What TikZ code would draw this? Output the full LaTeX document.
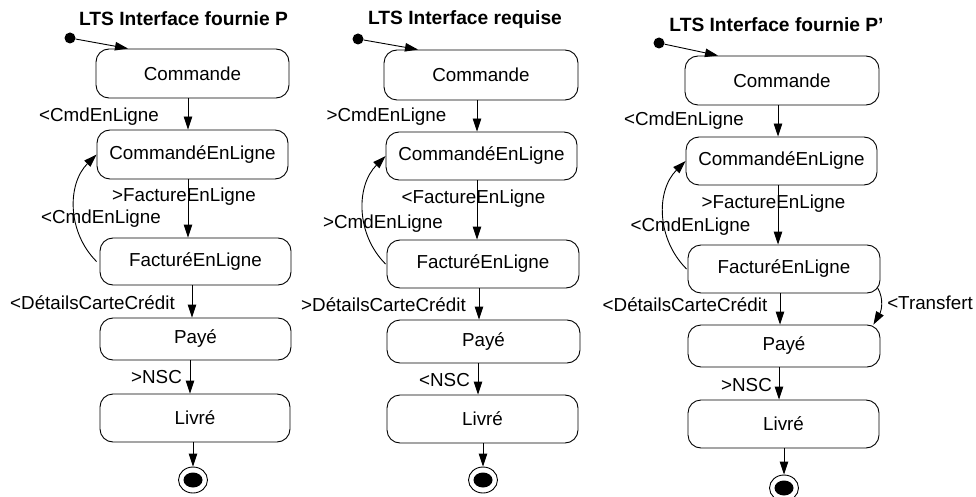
\documentclass[tikz,border=0pt]{standalone}
\usepackage{fontspec}
\setmainfont{Liberation Sans}
\usetikzlibrary{arrows.meta,shapes.geometric}
\begin{document}
\begin{tikzpicture}[x=1pt,y=1pt,
  every node/.style={font=\fontsize{18.8}{22}\selectfont, inner sep=0pt},
  state/.style={draw, line width=0.9pt, rounded corners=13pt, minimum width=192pt},
  ttl/.style={font=\fontsize{19.2}{23}\selectfont\bfseries},
  lbl/.style={},
  initdot/.style={circle, fill=black, minimum size=11pt},
  finst/.style={ellipse, draw, line width=0.9pt, minimum width=29pt, minimum height=26pt},
  tr/.style={line width=0.9pt, -{Triangle[length=13pt,width=8.5pt]}}]
\useasboundingbox (0,0) rectangle (976,496);

% ---------- Panel 1 ----------
\node[ttl] (t1) at (183.5,477) {LTS Interface fournie P};
\node[initdot] (d1) at (70,458) {};
\node[state, minimum height=49pt, minimum width=193pt] (c1) at (192.5,422.5) {Commande};
\node[state, minimum height=49pt, minimum width=191pt] (cel1) at (192.5,341.5) {CommandéEnLigne};
\node[state, minimum height=47pt, minimum width=191pt] (fel1) at (195.5,234.5) {FacturéEnLigne};
\node[state, minimum height=42pt, minimum width=191pt] (p1) at (195.5,157) {Payé};
\node[state, minimum height=48pt, minimum width=190pt] (l1) at (195,78) {Livré};
\node[finst] (f1) at (193,16) {};
\fill (f1.center) ellipse [x radius=9.5pt, y radius=7.5pt];
\node[lbl] (a1) at (99,379) {<CmdEnLigne};
\node[lbl] (b1) at (184,299) {>FactureEnLigne};
\node[lbl] (r1) at (101,277) {<CmdEnLigne};
\node[lbl] (e1) at (92.5,193) {<DétailsCarteCrédit};
\node[lbl] (n1) at (156.5,119) {>NSC};
\draw[tr] (d1) -- ([xshift=-64.5pt]c1.north);
\draw[tr] ([xshift=-4.5pt]c1.south) -- ([xshift=-4.5pt]cel1.north);
\draw[tr] ([xshift=-4.5pt]cel1.south) -- ([xshift=-7.5pt]fel1.north);
\draw[tr] ([xshift=-3.5pt]fel1.south) -- ([xshift=-3.5pt]p1.north);
\draw[tr] ([xshift=-5.5pt]p1.south) -- ([xshift=-5pt]l1.north);
\draw[tr] ([xshift=-2pt]l1.south) -- (f1.north);
\draw[tr] ([xshift=-3pt]fel1.west) to[out=135,in=225] (cel1.west);

% ---------- Panel 2 ----------
\node[ttl] (t2) at (465,476) {LTS Interface requise};
\node[initdot] (d2) at (358,457) {};
\node[state, minimum height=50pt, minimum width=194pt] (c2) at (481,421) {Commande};
\node[state, minimum height=48pt, minimum width=191pt] (cel2) at (481.5,340) {CommandéEnLigne};
\node[state, minimum height=48pt, minimum width=192pt] (fel2) at (483,232) {FacturéEnLigne};
\node[state, minimum height=43pt, minimum width=193pt] (p2) at (483.5,154.5) {Payé};
\node[state, minimum height=48pt, minimum width=191pt] (l2) at (482.5,77) {Livré};
\node[finst] (f2) at (483,16) {};
\fill (f2.center) ellipse [x radius=9.5pt, y radius=7.5pt];
\node[lbl] (a2) at (386.5,379) {>CmdEnLigne};
\node[lbl] (b2) at (473.5,297) {<FactureEnLigne};
\node[lbl] (r2) at (383,272) {>CmdEnLigne};
\node[lbl] (e2) at (383.5,191) {>DétailsCarteCrédit};
\node[lbl] (n2) at (444.5,116) {<NSC};
\draw[tr] (d2) -- ([xshift=-63pt]c2.north);
\draw[tr] ([xshift=-4pt]c2.south) -- ([xshift=-4.5pt]cel2.north);
\draw[tr] ([xshift=-4.5pt]cel2.south) -- ([xshift=-6pt]fel2.north);
\draw[tr] ([xshift=-4pt]fel2.south) -- ([xshift=-4.5pt]p2.north);
\draw[tr] ([xshift=-5.5pt]p2.south) -- ([xshift=-4.5pt]l2.north);
\draw[tr] ([xshift=0.5pt]l2.south) -- (f2.north);
\draw[tr] ([xshift=-1pt]fel2.west) to[out=135,in=225] (cel2.west);

% ---------- Panel 3 ----------
\node[ttl] (t3) at (776.5,471) {LTS Interface fournie P’};
\node[initdot] (d3) at (659,453) {};
\node[state, minimum height=49pt, minimum width=194pt] (c3) at (782,415.5) {Commande};
\node[state, minimum height=48pt, minimum width=191pt] (cel3) at (781.5,335) {CommandéEnLigne};
\node[state, minimum height=48pt, minimum width=192pt] (fel3) at (784,227) {FacturéEnLigne};
\node[state, minimum height=42pt, minimum width=192pt] (p3) at (784,150) {Payé};
\node[state, minimum height=48pt, minimum width=191pt] (l3) at (783.5,72) {Livré};
\node[finst] (f3) at (784,8) {};
\fill (f3.center) ellipse [x radius=9.5pt, y radius=7.5pt];
\node[lbl] (a3) at (684,375) {<CmdEnLigne};
\node[lbl] (b3) at (773.5,292) {>FactureEnLigne};
\node[lbl] (r3) at (690.5,269) {<CmdEnLigne};
\node[lbl] (e3) at (685,191) {<DétailsCarteCrédit};
\node[lbl] (n3) at (746.5,111) {>NSC};
\node[lbl] (x3) at (930,193) {<Transfert};
\draw[tr] (d3) -- ([xshift=-64pt]c3.north);
\draw[tr] ([xshift=-4pt]c3.south) -- ([xshift=-3.5pt]cel3.north);
\draw[tr] ([xshift=-3.5pt]cel3.south) -- ([xshift=-6pt]fel3.north);
\draw[tr] ([xshift=-4pt]fel3.south) -- ([xshift=-4pt]p3.north);
\draw[tr] ([xshift=-5pt]p3.south) -- ([xshift=-4.5pt]l3.north);
\draw[tr] ([xshift=0.5pt]l3.south) -- (f3.north);
\draw[tr] ([xshift=-1pt]fel3.west) to[out=135,in=225] (cel3.west);
\draw[tr] ([xshift=-3pt,yshift=6pt]fel3.south east) to[out=-60,in=60] ([xshift=-7pt]p3.north east);
\end{tikzpicture}
\end{document}
